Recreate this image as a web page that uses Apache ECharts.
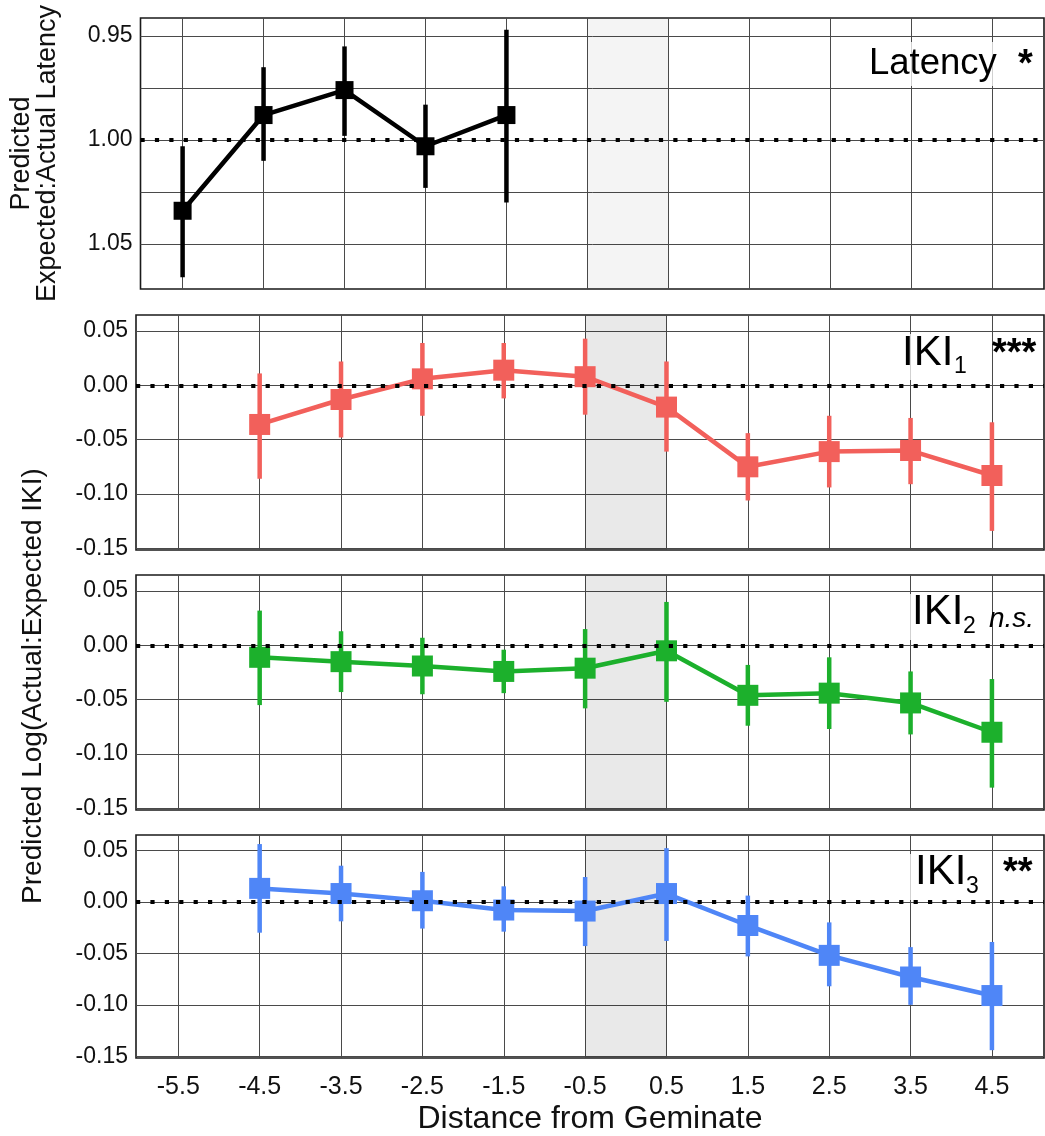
<!DOCTYPE html>
<html>
<head>
<meta charset="utf-8">
<script src="https://cdn.jsdelivr.net/npm/echarts@6/dist/echarts.min.js"></script>
<style>
  html, body { margin: 0; padding: 0; background: #fff; }
  #chart { width: 1045px; height: 1136px; }
</style>
</head>
<body>
<div id="chart"></div>
<script>
// ---- data -------------------------------------------------------------
const xTicks = [-5.5, -4.5, -3.5, -2.5, -1.5, -0.5, 0.5, 1.5, 2.5, 3.5, 4.5];

// Latency: predicted expected:actual latency ratio with 95% intervals
const latencyX    = [-5.5, -4.5, -3.5, -2.5, -1.5];
const latencyMean = [1.034, 0.988, 0.976, 1.003, 0.988];
const latencyLow  = [1.003, 0.965, 0.955, 0.983, 0.947];
const latencyHigh = [1.066, 1.010, 0.998, 1.023, 1.030];

// Inter-key intervals: predicted log(actual:expected IKI) with intervals
const ikiX = [-4.5, -3.5, -2.5, -1.5, -0.5, 0.5, 1.5, 2.5, 3.5, 4.5];

const iki1Mean = [-0.036, -0.013, 0.006, 0.014, 0.008, -0.020, -0.075, -0.061, -0.060, -0.083];
const iki1High = [0.011, 0.022, 0.039, 0.039, 0.043, 0.022, -0.044, -0.028, -0.030, -0.034];
const iki1Low  = [-0.086, -0.048, -0.028, -0.012, -0.027, -0.061, -0.106, -0.094, -0.091, -0.134];

const iki2Mean = [-0.011, -0.015, -0.019, -0.024, -0.021, -0.005, -0.046, -0.044, -0.053, -0.080];
const iki2High = [0.032, 0.013, 0.007, -0.004, 0.015, 0.040, -0.018, -0.011, -0.024, -0.031];
const iki2Low  = [-0.055, -0.043, -0.045, -0.044, -0.058, -0.052, -0.074, -0.077, -0.082, -0.131];

const iki3Mean = [0.013, 0.008, 0.001, -0.008, -0.009, 0.008, -0.023, -0.052, -0.073, -0.091];
const iki3High = [0.056, 0.035, 0.029, 0.015, 0.024, 0.052, 0.006, -0.020, -0.044, -0.039];
const iki3Low  = [-0.030, -0.019, -0.026, -0.029, -0.043, -0.038, -0.053, -0.082, -0.100, -0.144];

const latencyTicks = [0.95, 1.00, 1.05];
const latencyGrid  = [0.95, 0.975, 1.00, 1.025, 1.05];
const ikiTicks     = [-0.15, -0.10, -0.05, 0.00, 0.05];

// ---- styling ----------------------------------------------------------
const FONT = "'Liberation Sans', Arial, Helvetica, sans-serif";
const COLORS = ['#000000', '#f2605b', '#1cb02c', '#4f86f7'];

const panels = [
  { x: latencyX, mean: latencyMean, low: latencyLow, high: latencyHigh, ref: 1.0, shade: 'rgba(0,0,0,0.045)', size: 18 },
  { x: ikiX, mean: iki1Mean, low: iki1Low, high: iki1High, ref: 0, shade: 'rgba(0,0,0,0.085)', size: 21 },
  { x: ikiX, mean: iki2Mean, low: iki2Low, high: iki2High, ref: 0, shade: 'rgba(0,0,0,0.085)', size: 21 },
  { x: ikiX, mean: iki3Mean, low: iki3Low, high: iki3High, ref: 0, shade: 'rgba(0,0,0,0.085)', size: 21 }
];

const gridTops = [18, 315, 575, 835];
const gridHeights = [271, 235, 235, 235];

const grids = gridTops.map((t, i) => ({
  left: 136, right: 1, top: t, height: gridHeights[i],
  show: true, borderColor: '#1a1a1a', borderWidth: 1.6
}));

const gridLine = { show: true, lineStyle: { color: '#4a4a4a', width: 1 } };

const xAxes = gridTops.map((t, i) => ({
  gridIndex: i, type: 'value', min: -6.02, max: 5.14,
  axisLine: { show: false },
  axisTick: { show: false, customValues: xTicks },
  axisLabel: {
    show: i === 3, customValues: xTicks, fontSize: 25, color: '#111',
    fontFamily: FONT, margin: 17, formatter: v => v.toFixed(1)
  },
  splitLine: gridLine,
  name: i === 3 ? 'Distance from Geminate' : '',
  nameLocation: 'middle', nameGap: 45,
  nameTextStyle: { fontSize: 32, color: '#111', fontFamily: FONT }
}));

const yAxes = gridTops.map((t, i) => {
  const isLatency = i === 0;
  const ax = {
    gridIndex: i, type: 'value',
    inverse: isLatency,
    min: isLatency ? 0.94135 : -0.1516,
    max: isLatency ? 1.0716 : 0.0648,
    axisLine: { show: false },
    axisTick: { show: false, customValues: isLatency ? latencyGrid : ikiTicks },
    axisLabel: {
      customValues: isLatency ? latencyTicks : ikiTicks,
      fontSize: 23, color: '#111', fontFamily: FONT, margin: 8,
      formatter: v => v.toFixed(2)
    },
    splitLine: gridLine
  };
  if (isLatency) {
    ax.name = 'Predicted\nExpected:Actual Latency';
    ax.nameLocation = 'middle';
    ax.nameGap = 80;
    ax.nameTextStyle = { fontSize: 27, color: '#111', fontFamily: FONT, lineHeight: 26 };
  }
  return ax;
});

const series = [];
panels.forEach((p, i) => {
  const color = COLORS[i];
  const refStyle = { color: '#000', width: 4.2, type: [4.2, 10.2], cap: 'butt' };
  // shaded geminate region and dotted reference line
  series.push({
    type: 'line', xAxisIndex: i, yAxisIndex: i, data: [], z: 1, silent: true,
    markArea: {
      silent: true, itemStyle: { color: p.shade },
      data: [[{ xAxis: -0.5 }, { xAxis: 0.5 }]]
    },
    markLine: {
      silent: true, symbol: ['none', 'none'], label: { show: false },
      lineStyle: refStyle,
      emphasis: { disabled: true },
      data: [{ yAxis: p.ref, lineStyle: refStyle }]
    }
  });
  // interval bars
  series.push({
    type: 'custom', xAxisIndex: i, yAxisIndex: i, z: 2,
    data: p.x.map((x, k) => [x, p.low[k], p.high[k]]),
    encode: { x: 0, y: [1, 2] },
    renderItem: (params, api) => {
      const a = api.coord([api.value(0), api.value(1)]);
      const b = api.coord([api.value(0), api.value(2)]);
      return {
        type: 'line',
        shape: { x1: a[0], y1: a[1], x2: b[0], y2: b[1] },
        style: { stroke: color, lineWidth: 4.5 }
      };
    }
  });
  // point estimates
  series.push({
    type: 'line', xAxisIndex: i, yAxisIndex: i, z: 3,
    data: p.x.map((x, k) => [x, p.mean[k]]),
    symbol: 'rect', symbolSize: p.size, showAllSymbol: true,
    lineStyle: { color: color, width: 4.5 },
    itemStyle: { color: color }
  });
});

// ---- panel labels -----------------------------------------------------
function txt(x, y, text, size, extra) {
  return {
    type: 'text', x: x, y: y, z: 50, silent: true,
    style: Object.assign({
      text: text, fontSize: size, fontFamily: FONT, fill: '#000',
      align: 'left', verticalAlign: 'middle'
    }, extra || {})
  };
}
function box(x, y, w, h) {
  return { type: 'rect', z: 49, silent: true, shape: { x: x, y: y, width: w, height: h },
           style: { fill: 'rgba(255,255,255,0.75)' } };
}

const graphic = [
  // shared title for the three IKI panels
  {
    type: 'text', x: 33, y: 686, rotation: Math.PI / 2, z: 50, silent: true,
    style: { text: 'Predicted Log(Actual:Expected IKI)', fontSize: 28, fontFamily: FONT,
             fill: '#111', align: 'center', verticalAlign: 'middle' }
  },

  box(866, 42, 138, 44),
  txt(869, 64, 'Latency', 36.5),
  txt(1018, 66, '*', 38, { fontWeight: 'bold' }),

  box(897, 334, 76, 46),
  txt(902, 353, 'IKI', 42),
  txt(954, 367, '1', 23),
  txt(992, 355, '***', 38, { fontWeight: 'bold' }),

  box(907, 594, 76, 46),
  txt(912, 612, 'IKI', 42),
  txt(963, 627, '2', 23),
  txt(989, 619, 'n.s.', 28, { fontStyle: 'italic' }),

  box(910, 854, 76, 46),
  txt(915, 872, 'IKI', 42),
  txt(966, 887, '3', 23),
  txt(1003, 874, '**', 38, { fontWeight: 'bold' })
];

const chart = echarts.init(document.getElementById('chart'), null, { renderer: 'canvas' });
chart.setOption({
  animation: false,
  backgroundColor: '#fff',
  grid: grids,
  xAxis: xAxes,
  yAxis: yAxes,
  series: series,
  graphic: graphic
});
</script>
</body>
</html>
